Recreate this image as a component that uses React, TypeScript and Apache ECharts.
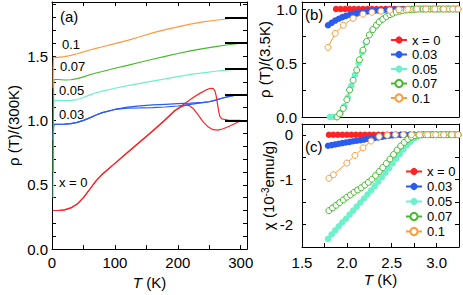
import React, { useEffect, useRef } from "react";
import * as echarts from "echarts";

const FONT = '"Liberation Sans", Arial, Helvetica, sans-serif';

const C_RED = "#ff2424";
const C_BLUE = "#2a5cf0";
const C_CYAN = "#6ef0cc";
const C_GREEN = "#46b92e";
const C_ORANGE = "#fb9b3e";

// ---------- Panel (a): rho(T)/rho(300K), successive curves offset by 0.2
const aRedT = [1.8, 10, 20, 30, 40, 50, 60, 70, 80, 100, 120, 140, 160, 180, 195];
const aRedV = [0.3, 0.3, 0.305, 0.32, 0.35, 0.4, 0.465, 0.53, 0.582, 0.666, 0.75, 0.834, 0.918, 1.005, 1.075];
const aRedUpT = [205, 215, 225, 235, 245, 252, 256, 259, 261, 263, 265, 267, 270, 280, 300];
const aRedUpV = [1.11, 1.145, 1.18, 1.21, 1.237, 1.25, 1.248, 1.23, 1.19, 1.13, 1.07, 1.03, 1.012, 1.003, 1.0];
const aRedLoT = [205, 212, 218, 225, 232, 240, 248, 256, 264, 272, 282, 292, 300];
const aRedLoV = [1.105, 1.118, 1.115, 1.09, 1.045, 0.99, 0.95, 0.928, 0.925, 0.935, 0.955, 0.978, 1.0];

const aBlueT = [1.8, 2.5, 3, 10, 20, 30, 40, 50, 60, 70, 80, 100, 120, 140, 160, 180, 200, 220, 240, 250, 260, 270, 280, 290, 300];
const aBlueUpV = [0.85, 0.95, 0.97, 0.97, 0.971, 0.975, 0.985, 1.0, 1.02, 1.042, 1.06, 1.085, 1.103, 1.113, 1.12, 1.125, 1.13, 1.134, 1.14, 1.145, 1.158, 1.172, 1.185, 1.195, 1.2];
const aBlueLoV = [0.85, 0.95, 0.97, 0.97, 0.971, 0.975, 0.985, 1.0, 1.02, 1.042, 1.06, 1.085, 1.095, 1.097, 1.1, 1.104, 1.112, 1.125, 1.138, 1.145, 1.158, 1.172, 1.185, 1.195, 1.2];

const aCyanT = [1.8, 2.0, 2.5, 3, 10, 20, 30, 40, 50, 60, 70, 80, 100, 120, 140, 160, 180, 200, 220, 240, 260, 280, 300];
const aCyanV = [0.4, 0.5, 1.125, 1.155, 1.155, 1.153, 1.155, 1.162, 1.178, 1.198, 1.215, 1.228, 1.25, 1.27, 1.288, 1.305, 1.322, 1.34, 1.357, 1.37, 1.382, 1.392, 1.4];

const aGreenT = [1.9, 2.0, 2.5, 3, 10, 20, 30, 40, 50, 60, 70, 80, 100, 120, 140, 160, 180, 200, 220, 240, 260, 280, 300];
const aGreenV = [0.6, 0.71, 1.29, 1.318, 1.318, 1.314, 1.316, 1.325, 1.338, 1.355, 1.368, 1.38, 1.405, 1.428, 1.452, 1.475, 1.498, 1.52, 1.54, 1.558, 1.573, 1.588, 1.6];

const aOrangeT = [1.8, 2.0, 2.5, 3, 10, 20, 30, 40, 50, 60, 70, 80, 100, 120, 140, 160, 180, 200, 220, 240, 260, 280, 300];
const aOrangeV = [1.25, 1.41, 1.48, 1.49, 1.49, 1.495, 1.505, 1.518, 1.532, 1.547, 1.56, 1.572, 1.597, 1.622, 1.65, 1.68, 1.705, 1.727, 1.748, 1.765, 1.778, 1.79, 1.8];

// 300 K reference marks
const aMarkLevels = [1.0, 1.2, 1.4, 1.6, 1.8];
const aMarkT = [275, 310];

// ---------- Panel (b): rho(T)/rho(3.5K)
const bT0 = [1.88, 1.93, 1.98, 2.03, 2.08, 2.13, 2.18, 2.23, 2.28, 2.33, 2.38, 2.43, 2.48, 2.53, 2.58, 2.63, 2.68, 2.73, 2.78, 2.83, 2.88, 2.93, 2.98, 3.03, 3.08, 3.13, 3.18, 3.23];
const bV0 = [1, 1, 1, 1, 1, 1, 1, 1, 1, 1, 1, 1, 1, 1, 1, 1, 1, 1, 1, 1, 1, 1, 1, 1, 1, 1, 1, 1];
const bT03 = [1.79, 1.83, 1.87, 1.91, 1.95, 1.99, 2.03, 2.07, 2.11, 2.15, 2.19, 2.23, 2.27, 2.31, 2.35, 2.4, 2.45, 2.5, 2.55, 2.6, 2.65, 2.7, 2.75, 2.8, 2.85, 2.9, 2.95, 3.0, 3.05, 3.1, 3.15, 3.2, 3.24];
const bV03 = [0.85, 0.872, 0.893, 0.91, 0.925, 0.937, 0.947, 0.955, 0.962, 0.968, 0.973, 0.977, 0.981, 0.984, 0.987, 0.99, 0.992, 0.994, 0.996, 0.997, 0.998, 0.999, 1, 1, 1, 1, 1, 1, 1, 1, 1, 1, 1];
const bT05 = [1.81, 1.85, 1.89, 1.93, 1.97, 2.01, 2.05, 2.09, 2.13, 2.17, 2.21, 2.25, 2.29, 2.33, 2.37, 2.41, 2.45, 2.5, 2.55, 2.6, 2.65, 2.7, 2.75, 2.8, 2.85, 2.9, 2.95, 3.0, 3.05, 3.1, 3.15, 3.2, 3.24];
const bV05 = [0, 0, 0, 0.04, 0.1, 0.18, 0.29, 0.39, 0.5, 0.6, 0.69, 0.76, 0.81, 0.85, 0.89, 0.915, 0.94, 0.962, 0.975, 0.985, 0.992, 0.996, 1, 1, 1, 1, 1, 1, 1, 1, 1, 1, 1];
const bT07 = [1.89, 1.92, 1.96, 2.0, 2.03, 2.07, 2.11, 2.14, 2.18, 2.22, 2.25, 2.29, 2.33, 2.36, 2.4, 2.44, 2.48, 2.51, 2.55, 2.59, 2.62, 2.66, 2.7, 2.74, 2.77, 2.81, 2.85, 2.88, 2.92, 2.96, 3.0, 3.03, 3.07, 3.11, 3.14, 3.18, 3.22];
const bV07 = [0, 0.03, 0.08, 0.16, 0.25, 0.34, 0.435, 0.53, 0.62, 0.7, 0.76, 0.81, 0.85, 0.88, 0.905, 0.93, 0.948, 0.96, 0.972, 0.98, 0.986, 0.99, 0.994, 0.997, 0.998, 1, 1, 1, 1, 1, 1, 1, 1, 1, 1, 1, 1];
const bT10 = [1.79, 1.87, 1.96, 2.07, 2.18, 2.28, 2.38, 2.48, 2.58, 2.68, 2.78, 2.88, 2.98, 3.08, 3.18, 3.24];
const bV10 = [0.645, 0.775, 0.85, 0.914, 0.952, 0.97, 0.98, 0.988, 0.994, 0.998, 1, 1, 1, 1, 1, 1];

// ---------- Panel (c): chi (10^-3 emu/g)
const cT0 = [1.8, 1.85, 1.9, 1.95, 2.0, 2.05, 2.1, 2.15, 2.2, 2.25, 2.3, 2.35, 2.4, 2.45, 2.5, 2.55, 2.6, 2.65, 2.7, 2.75, 2.8, 2.85, 2.9, 2.95, 3.0, 3.05, 3.1, 3.15, 3.2, 3.24];
const cV0 = [0, 0, 0, 0, 0, 0, 0, 0, 0, 0, 0, 0, 0, 0, 0, 0, 0, 0, 0, 0, 0, 0, 0, 0, 0, 0, 0, 0, 0, 0];
const cT03 = [1.79, 1.83, 1.87, 1.91, 1.95, 1.99, 2.03, 2.07, 2.11, 2.15, 2.19, 2.23, 2.27, 2.31, 2.35, 2.39, 2.43, 2.47, 2.51, 2.55, 2.6, 2.65, 2.7, 2.75, 2.8, 2.85, 2.9, 2.95, 3.0, 3.05, 3.1, 3.15, 3.2, 3.24];
const cV03 = [-0.245, -0.23, -0.215, -0.2, -0.185, -0.172, -0.158, -0.145, -0.132, -0.12, -0.107, -0.095, -0.083, -0.07, -0.058, -0.046, -0.034, -0.022, -0.012, -0.005, -0.002, 0, 0, 0, 0, 0, 0, 0, 0, 0, 0, 0, 0, 0];
const cT05 = [1.79, 1.83, 1.87, 1.91, 1.95, 1.99, 2.03, 2.07, 2.11, 2.15, 2.19, 2.23, 2.27, 2.31, 2.35, 2.39, 2.43, 2.47, 2.51, 2.55, 2.59, 2.63, 2.67, 2.71, 2.75, 2.79, 2.83, 2.87, 2.92, 2.97, 3.02, 3.07, 3.12, 3.17, 3.22];
const cV05 = [-2.32, -2.22, -2.13, -2.04, -1.95, -1.87, -1.78, -1.69, -1.6, -1.51, -1.42, -1.33, -1.24, -1.145, -1.045, -0.945, -0.845, -0.745, -0.64, -0.535, -0.43, -0.33, -0.235, -0.155, -0.085, -0.035, -0.01, 0, 0, 0, 0, 0, 0, 0, 0];
const cT07 = [1.8, 1.84, 1.88, 1.92, 1.96, 2.0, 2.04, 2.08, 2.12, 2.16, 2.2, 2.24, 2.28, 2.32, 2.36, 2.4, 2.44, 2.48, 2.52, 2.56, 2.6, 2.64, 2.68, 2.72, 2.76, 2.8, 2.84, 2.88, 2.92, 2.96, 3.0, 3.04, 3.08, 3.12, 3.16, 3.2, 3.24];
const cV07 = [-1.69, -1.63, -1.57, -1.51, -1.45, -1.39, -1.34, -1.28, -1.23, -1.18, -1.12, -1.06, -0.99, -0.91, -0.82, -0.73, -0.64, -0.54, -0.44, -0.34, -0.25, -0.17, -0.1, -0.05, -0.02, -0.005, 0, 0, 0, 0, 0, 0, 0, 0, 0, 0, 0];
const cT10 = [1.8, 1.85, 2.0, 2.09, 2.18, 2.27, 2.36, 2.45, 2.54, 2.63, 2.72, 2.81, 2.9, 2.99, 3.08, 3.17, 3.24];
const cV10 = [-0.97, -0.89, -0.63, -0.46, -0.29, -0.14, -0.04, -0.01, 0, 0, 0, 0, 0, 0, 0, 0, 0];

const legendNames = ["x = 0", "0.03", "0.05", "0.07", "0.1"];
const sampleColors = [C_RED, C_BLUE, C_CYAN, C_GREEN, C_ORANGE];
const sampleEmpty = [false, false, false, true, true];

const pairs = (t: number[], v: number[]) => t.map((x, i) => [x, v[i]]);

const black = "#000";
const axisLine = { show: true, onZero: false, lineStyle: { color: black, width: 1 } };
const tickIn = (len: number) => ({ show: true, inside: true, length: len, lineStyle: { color: black, width: 1 } });
const noSplit = { show: false };
const lbl = { color: black, fontFamily: FONT, fontSize: 15 };
const nameStyle = {
  color: black,
  fontFamily: FONT,
  fontSize: 15,
  rich: {
    i: { fontFamily: FONT, fontSize: 15, fontStyle: "italic", color: black },
    n: { fontFamily: FONT, fontSize: 15, color: black },
    s: { fontFamily: FONT, fontSize: 10, color: black, verticalAlign: "top", lineHeight: 15 },
  },
};

const fmtHalf = (v: number) => (Math.round(v * 100) % 50 === 0 ? v.toFixed(1) : "");

export default function App() {
  const ref = useRef<HTMLDivElement>(null);
  useEffect(() => {
    if (!ref.current) return;
    const chart = echarts.init(ref.current, undefined, { renderer: "svg" });

    const aLine = (name: string, data: number[][], color: string, extra: any = {}) => ({
      type: "line",
      name,
      xAxisIndex: 0,
      yAxisIndex: 0,
      data,
      symbol: "none",
      lineStyle: { color, width: 1.2 },
      itemStyle: { color },
      ...extra,
    });

    const pt = (i: number, t: number[], v: number[], xi: number) => ({
      type: "line",
      name: legendNames[i],
      xAxisIndex: xi,
      yAxisIndex: xi,
      data: pairs(t, v),
      symbol: "circle",
      symbolSize: sampleEmpty[i] ? 6 : 6.5,
      showAllSymbol: true,
      lineStyle: { color: sampleColors[i], width: 1 },
      itemStyle: sampleEmpty[i]
        ? { color: "#fff", borderColor: sampleColors[i], borderWidth: 1 }
        : { color: sampleColors[i], borderWidth: 0 },
    });

    const xBC = (gi: number, pos: string, extra: any) => ({
      gridIndex: gi,
      type: "value",
      position: pos,
      min: 1.5,
      max: 3.25,
      interval: 0.25,
      axisLine,
      splitLine: noSplit,
      axisTick: tickIn(4),
      axisLabel: { show: false },
      ...extra,
    });

    const option: any = {
      animation: false,
      backgroundColor: "#fff",
      grid: [
        { left: 52, top: 2, width: 195, height: 250 },
        { left: 302, top: 2, width: 157, height: 115 },
        { left: 302, top: 124, width: 157, height: 123 },
      ],
      xAxis: [
        {
          gridIndex: 0, type: "value", position: "bottom", min: 0, max: 310, interval: 50,
          axisLine, splitLine: noSplit, axisTick: tickIn(4),
          axisLabel: { ...lbl, margin: 6, formatter: (v: number) => (v % 100 === 0 ? String(v) : "") },
          name: "{i|T} (K)", nameLocation: "middle", nameGap: 20, nameTextStyle: nameStyle,
        },
        {
          gridIndex: 0, type: "value", position: "top", min: 0, max: 310, interval: 50,
          axisLine, splitLine: noSplit, axisTick: tickIn(4), axisLabel: { show: false },
        },
        xBC(1, "bottom", { axisTick: { show: false } }),
        xBC(1, "top", {}),
        xBC(2, "bottom", {
          axisLabel: { ...lbl, margin: 8, formatter: (v: number) => (v < 3.2 ? fmtHalf(v) : "") },
          name: "{i|T} (K)", nameLocation: "middle", nameGap: 25, nameTextStyle: nameStyle,
        }),
        xBC(2, "top", {}),
      ],
      yAxis: [
        {
          gridIndex: 0, type: "value", position: "left", min: 0, max: 1.92, interval: 0.1,
          axisLine, splitLine: noSplit, axisTick: tickIn(4),
          axisLabel: { ...lbl, margin: 4, formatter: (v: number) => (Math.round(v * 10) % 5 === 0 && v < 1.9 ? v.toFixed(1) : "") },
          name: "ρ (T)/(300K)", nameLocation: "middle", nameGap: 31, nameTextStyle: nameStyle,
        },
        {
          gridIndex: 0, type: "value", position: "right", min: 0, max: 1.92, interval: 0.1,
          axisLine, splitLine: noSplit, axisTick: tickIn(4), axisLabel: { show: false },
        },
        {
          gridIndex: 1, type: "value", position: "left", min: 0, max: 1.065, interval: 0.25,
          axisLine, splitLine: noSplit, axisTick: tickIn(4),
          axisLabel: { ...lbl, margin: 5, formatter: (v: number) => (v < 1.05 ? fmtHalf(v) : "") },
          name: "ρ (T)/(3.5K)", nameLocation: "middle", nameGap: 28, nameTextStyle: nameStyle,
        },
        {
          gridIndex: 1, type: "value", position: "right", min: 0, max: 1.065, interval: 0.25,
          axisLine, splitLine: noSplit, axisTick: tickIn(4), axisLabel: { show: false },
        },
        {
          gridIndex: 2, type: "value", position: "left", min: -2.5, max: 0.24, interval: 0.5,
          axisLine, splitLine: noSplit, axisTick: tickIn(4),
          axisLabel: { ...lbl, margin: 9, formatter: (v: number) => (Math.abs(v - Math.round(v)) < 1e-6 ? String(Math.round(v)) : "") },
          name: "{n|χ (10}{s|-3}{n|emu/g)}", nameLocation: "middle", nameGap: 26, nameTextStyle: nameStyle,
        },
        {
          gridIndex: 2, type: "value", position: "right", min: -2.5, max: 0.24, interval: 0.5,
          axisLine, splitLine: noSplit, axisTick: tickIn(4), axisLabel: { show: false },
        },
      ],
      legend: [
        {
          data: legendNames, orient: "vertical", left: 390, top: 33.5, itemWidth: 16, itemHeight: 9,
          itemGap: 1.5, padding: 0, selectedMode: false,
          textStyle: { fontFamily: FONT, fontSize: 13, color: black },
        },
        {
          data: legendNames, orient: "vertical", left: 405, top: 165, itemWidth: 16, itemHeight: 9,
          itemGap: 2, padding: 0, selectedMode: false,
          textStyle: { fontFamily: FONT, fontSize: 13, color: black },
        },
      ],
      series: [
        aLine("a0up", pairs(aRedT.concat(aRedUpT), aRedV.concat(aRedUpV)), C_RED),
        aLine("a0lo", pairs(aRedT.concat(aRedLoT), aRedV.concat(aRedLoV)), C_RED, {
          markLine: {
            silent: true,
            symbol: ["none", "none"],
            label: { show: false },
            lineStyle: { color: black, width: 2, type: "solid" },
            data: aMarkLevels.map((v) => [{ coord: [aMarkT[0], v] }, { coord: [aMarkT[1], v] }]),
          },
        }),
        aLine("a03up", pairs(aBlueT, aBlueUpV), C_BLUE),
        aLine("a03lo", pairs(aBlueT, aBlueLoV), C_BLUE),
        aLine("a05", pairs(aCyanT, aCyanV), C_CYAN),
        aLine("a07", pairs(aGreenT, aGreenV), C_GREEN),
        aLine("a10", pairs(aOrangeT, aOrangeV), C_ORANGE),
        pt(0, bT0, bV0, 2),
        pt(1, bT03, bV03, 2),
        pt(2, bT05, bV05, 2),
        pt(3, bT07, bV07, 2),
        pt(4, bT10, bV10, 2),
        pt(0, cT0, cV0, 4),
        pt(1, cT03, cV03, 4),
        pt(2, cT05, cV05, 4),
        pt(3, cT07, cV07, 4),
        pt(4, cT10, cV10, 4),
      ],
      graphic: [
        { type: "text", x: 60, y: 16, style: { text: "(a)", font: `15px ${FONT}`, fill: black, verticalAlign: "middle" } },
        { type: "text", x: 305, y: 14, style: { text: "(b)", font: `15px ${FONT}`, fill: black, verticalAlign: "middle" } },
        { type: "text", x: 305, y: 146, style: { text: "(c)", font: `15px ${FONT}`, fill: black, verticalAlign: "middle" } },
        { type: "text", x: 62, y: 44, style: { text: "0.1", font: `13px ${FONT}`, fill: black, verticalAlign: "middle" } },
        { type: "text", x: 60, y: 66.5, style: { text: "0.07", font: `13px ${FONT}`, fill: black, verticalAlign: "middle" } },
        { type: "text", x: 59, y: 90, style: { text: "0.05", font: `13px ${FONT}`, fill: black, verticalAlign: "middle" } },
        { type: "text", x: 59, y: 114, style: { text: "0.03", font: `13px ${FONT}`, fill: black, verticalAlign: "middle" } },
        { type: "text", x: 59, y: 182, style: { text: "x = 0", font: `13px ${FONT}`, fill: black, verticalAlign: "middle" } },
      ],
    };

    chart.setOption(option);
    return () => chart.dispose();
  }, []);

  return (
    <div
      ref={ref}
      style={{ position: "absolute", left: 0, top: 0, width: 463, height: 295, background: "#fff" }}
    />
  );
}
